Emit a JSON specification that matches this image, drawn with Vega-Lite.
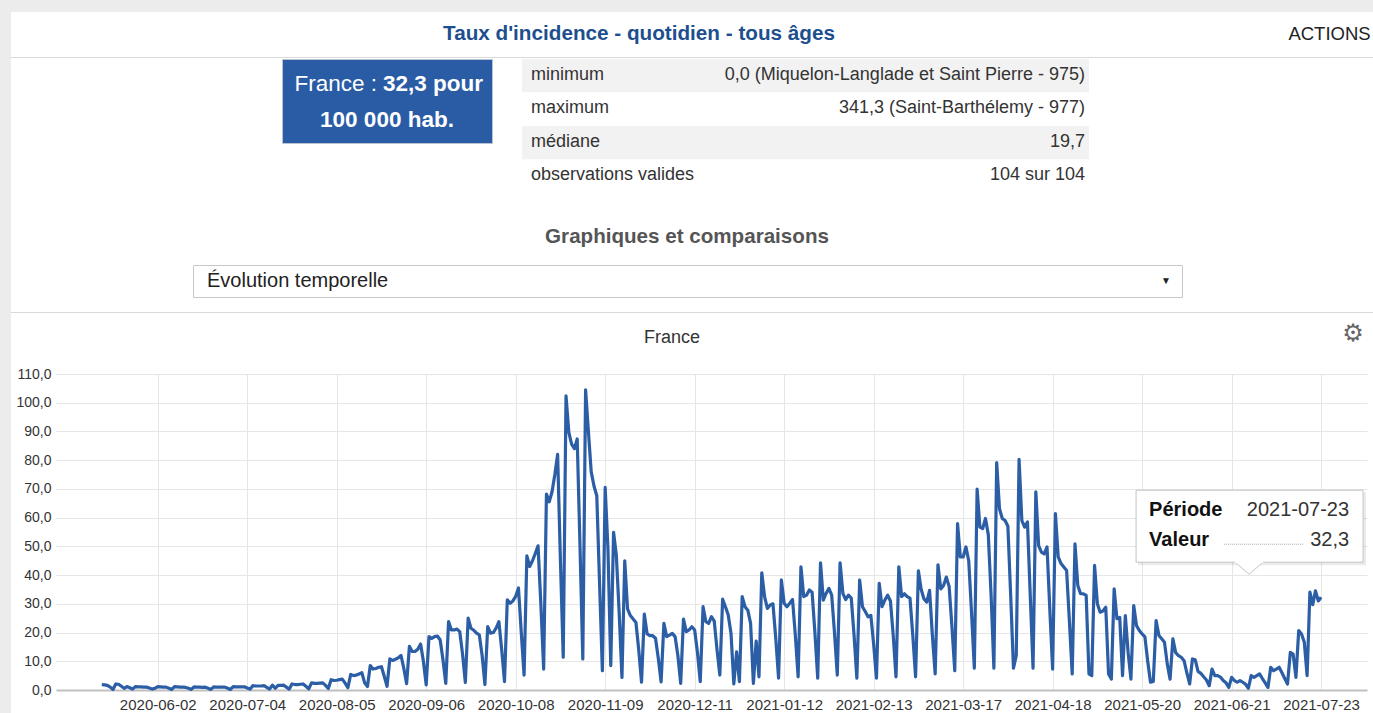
{
"$schema": "https://vega.github.io/schema/vega-lite/v6.json",
"background": "white",
"padding": 0,
"spacing": 0,
"config": {"view": {"stroke": null}, "font": "Liberation Sans", "text": {"font": "Liberation Sans"}},
"datasets": {
"incidence": [
{"periode":"2020-05-13","valeur":1.9},{"periode":"2020-05-14","valeur":1.8},{"periode":"2020-05-15","valeur":1.6},{"periode":"2020-05-16","valeur":1.0},{"periode":"2020-05-17","valeur":0.2},{"periode":"2020-05-18","valeur":2.1},{"periode":"2020-05-19","valeur":2.0},{"periode":"2020-05-20","valeur":1.3},{"periode":"2020-05-21","valeur":0.6},{"periode":"2020-05-22","valeur":1.2},{"periode":"2020-05-23","valeur":0.8},{"periode":"2020-05-24","valeur":0.3},{"periode":"2020-05-25","valeur":1.2},{"periode":"2020-05-26","valeur":1.1},{"periode":"2020-05-27","valeur":1.1},{"periode":"2020-05-28","valeur":1.0},{"periode":"2020-05-29","valeur":1.0},{"periode":"2020-05-30","valeur":0.7},{"periode":"2020-05-31","valeur":0.3},
{"periode":"2020-06-01","valeur":0.6},{"periode":"2020-06-02","valeur":1.2},{"periode":"2020-06-03","valeur":1.1},{"periode":"2020-06-04","valeur":1.0},{"periode":"2020-06-05","valeur":1.0},{"periode":"2020-06-06","valeur":0.6},{"periode":"2020-06-07","valeur":0.2},{"periode":"2020-06-08","valeur":1.2},{"periode":"2020-06-09","valeur":1.1},{"periode":"2020-06-10","valeur":1.0},{"periode":"2020-06-11","valeur":1.0},{"periode":"2020-06-12","valeur":0.9},{"periode":"2020-06-13","valeur":0.6},{"periode":"2020-06-14","valeur":0.2},{"periode":"2020-06-15","valeur":1.1},{"periode":"2020-06-16","valeur":1.0},{"periode":"2020-06-17","valeur":1.0},{"periode":"2020-06-18","valeur":0.9},{"periode":"2020-06-19","valeur":1.0},{"periode":"2020-06-20","valeur":0.6},{"periode":"2020-06-21","valeur":0.2},{"periode":"2020-06-22","valeur":1.1},{"periode":"2020-06-23","valeur":1.0},{"periode":"2020-06-24","valeur":1.0},{"periode":"2020-06-25","valeur":1.0},{"periode":"2020-06-26","valeur":1.0},{"periode":"2020-06-27","valeur":0.6},{"periode":"2020-06-28","valeur":0.2},{"periode":"2020-06-29","valeur":1.2},{"periode":"2020-06-30","valeur":1.1},
{"periode":"2020-07-01","valeur":1.1},{"periode":"2020-07-02","valeur":1.1},{"periode":"2020-07-03","valeur":1.1},{"periode":"2020-07-04","valeur":0.7},{"periode":"2020-07-05","valeur":0.3},{"periode":"2020-07-06","valeur":1.5},{"periode":"2020-07-07","valeur":1.4},{"periode":"2020-07-08","valeur":1.4},{"periode":"2020-07-09","valeur":1.4},{"periode":"2020-07-10","valeur":1.5},{"periode":"2020-07-11","valeur":0.9},{"periode":"2020-07-12","valeur":0.3},{"periode":"2020-07-13","valeur":1.7},{"periode":"2020-07-14","valeur":0.6},{"periode":"2020-07-15","valeur":1.6},{"periode":"2020-07-16","valeur":1.6},{"periode":"2020-07-17","valeur":1.7},{"periode":"2020-07-18","valeur":1.0},{"periode":"2020-07-19","valeur":0.3},{"periode":"2020-07-20","valeur":2.1},{"periode":"2020-07-21","valeur":1.9},{"periode":"2020-07-22","valeur":1.9},{"periode":"2020-07-23","valeur":2.0},{"periode":"2020-07-24","valeur":2.1},{"periode":"2020-07-25","valeur":1.3},{"periode":"2020-07-26","valeur":0.4},{"periode":"2020-07-27","valeur":2.5},{"periode":"2020-07-28","valeur":2.3},{"periode":"2020-07-29","valeur":2.3},{"periode":"2020-07-30","valeur":2.4},{"periode":"2020-07-31","valeur":2.5},
{"periode":"2020-08-01","valeur":1.6},{"periode":"2020-08-02","valeur":0.5},{"periode":"2020-08-03","valeur":3.6},{"periode":"2020-08-04","valeur":3.3},{"periode":"2020-08-05","valeur":3.4},{"periode":"2020-08-06","valeur":3.6},{"periode":"2020-08-07","valeur":3.8},{"periode":"2020-08-08","valeur":2.4},{"periode":"2020-08-09","valeur":0.8},{"periode":"2020-08-10","valeur":5.4},{"periode":"2020-08-11","valeur":5.0},{"periode":"2020-08-12","valeur":5.2},{"periode":"2020-08-13","valeur":5.6},{"periode":"2020-08-14","valeur":6.0},{"periode":"2020-08-15","valeur":2.5},{"periode":"2020-08-16","valeur":1.2},{"periode":"2020-08-17","valeur":8.5},{"periode":"2020-08-18","valeur":7.3},{"periode":"2020-08-19","valeur":7.5},{"periode":"2020-08-20","valeur":7.9},{"periode":"2020-08-21","valeur":8.1},{"periode":"2020-08-22","valeur":4.8},{"periode":"2020-08-23","valeur":1.3},{"periode":"2020-08-24","valeur":10.8},{"periode":"2020-08-25","valeur":10.3},{"periode":"2020-08-26","valeur":10.7},{"periode":"2020-08-27","valeur":11.2},{"periode":"2020-08-28","valeur":12.0},{"periode":"2020-08-29","valeur":7.5},{"periode":"2020-08-30","valeur":2.2},{"periode":"2020-08-31","valeur":15.2},
{"periode":"2020-09-01","valeur":13.4},{"periode":"2020-09-02","valeur":13.4},{"periode":"2020-09-03","valeur":14.2},{"periode":"2020-09-04","valeur":16.0},{"periode":"2020-09-05","valeur":10.0},{"periode":"2020-09-06","valeur":1.8},{"periode":"2020-09-07","valeur":18.6},{"periode":"2020-09-08","valeur":18.0},{"periode":"2020-09-09","valeur":18.6},{"periode":"2020-09-10","valeur":18.8},{"periode":"2020-09-11","valeur":17.4},{"periode":"2020-09-12","valeur":10.5},{"periode":"2020-09-13","valeur":2.3},{"periode":"2020-09-14","valeur":23.8},{"periode":"2020-09-15","valeur":20.9},{"periode":"2020-09-16","valeur":20.9},{"periode":"2020-09-17","valeur":21.2},{"periode":"2020-09-18","valeur":20.3},{"periode":"2020-09-19","valeur":12.5},{"periode":"2020-09-20","valeur":2.6},{"periode":"2020-09-21","valeur":25.0},{"periode":"2020-09-22","valeur":21.5},{"periode":"2020-09-23","valeur":20.8},{"periode":"2020-09-24","valeur":19.8},{"periode":"2020-09-25","valeur":19.2},{"periode":"2020-09-26","valeur":12.0},{"periode":"2020-09-27","valeur":1.9},{"periode":"2020-09-28","valeur":22.1},{"periode":"2020-09-29","valeur":19.8},{"periode":"2020-09-30","valeur":20.0},
{"periode":"2020-10-01","valeur":21.5},{"periode":"2020-10-02","valeur":23.8},{"periode":"2020-10-03","valeur":14.0},{"periode":"2020-10-04","valeur":2.9},{"periode":"2020-10-05","valeur":31.4},{"periode":"2020-10-06","valeur":30.2},{"periode":"2020-10-07","valeur":31.0},{"periode":"2020-10-08","valeur":32.6},{"periode":"2020-10-09","valeur":35.5},{"periode":"2020-10-10","valeur":20.0},{"periode":"2020-10-11","valeur":5.2},{"periode":"2020-10-12","valeur":46.7},{"periode":"2020-10-13","valeur":43.0},{"periode":"2020-10-14","valeur":45.0},{"periode":"2020-10-15","valeur":47.5},{"periode":"2020-10-16","valeur":50.2},{"periode":"2020-10-17","valeur":30.0},{"periode":"2020-10-18","valeur":7.3},{"periode":"2020-10-19","valeur":68.2},{"periode":"2020-10-20","valeur":65.5},{"periode":"2020-10-21","valeur":69.0},{"periode":"2020-10-22","valeur":75.0},{"periode":"2020-10-23","valeur":82.0},{"periode":"2020-10-24","valeur":45.0},{"periode":"2020-10-25","valeur":11.4},{"periode":"2020-10-26","valeur":102.4},{"periode":"2020-10-27","valeur":89.7},{"periode":"2020-10-28","valeur":85.6},{"periode":"2020-10-29","valeur":84.0},{"periode":"2020-10-30","valeur":87.4},{"periode":"2020-10-31","valeur":50.0},
{"periode":"2020-11-01","valeur":10.8},{"periode":"2020-11-02","valeur":104.5},{"periode":"2020-11-03","valeur":90.0},{"periode":"2020-11-04","valeur":76.0},{"periode":"2020-11-05","valeur":71.0},{"periode":"2020-11-06","valeur":67.6},{"periode":"2020-11-07","valeur":37.0},{"periode":"2020-11-08","valeur":6.7},{"periode":"2020-11-09","valeur":70.5},{"periode":"2020-11-10","valeur":49.0},{"periode":"2020-11-11","valeur":8.5},{"periode":"2020-11-12","valeur":54.9},{"periode":"2020-11-13","valeur":46.8},{"periode":"2020-11-14","valeur":27.0},{"periode":"2020-11-15","valeur":4.4},{"periode":"2020-11-16","valeur":45.0},{"periode":"2020-11-17","valeur":28.2},{"periode":"2020-11-18","valeur":25.9},{"periode":"2020-11-19","valeur":24.7},{"periode":"2020-11-20","valeur":23.5},{"periode":"2020-11-21","valeur":14.0},{"periode":"2020-11-22","valeur":2.7},{"periode":"2020-11-23","valeur":26.4},{"periode":"2020-11-24","valeur":19.5},{"periode":"2020-11-25","valeur":18.9},{"periode":"2020-11-26","valeur":18.9},{"periode":"2020-11-27","valeur":18.0},{"periode":"2020-11-28","valeur":11.0},{"periode":"2020-11-29","valeur":2.8},{"periode":"2020-11-30","valeur":23.2},
{"periode":"2020-12-01","valeur":18.6},{"periode":"2020-12-02","valeur":19.1},{"periode":"2020-12-03","valeur":19.7},{"periode":"2020-12-04","valeur":18.6},{"periode":"2020-12-05","valeur":12.0},{"periode":"2020-12-06","valeur":2.3},{"periode":"2020-12-07","valeur":24.7},{"periode":"2020-12-08","valeur":20.3},{"periode":"2020-12-09","valeur":20.9},{"periode":"2020-12-10","valeur":22.0},{"periode":"2020-12-11","valeur":20.9},{"periode":"2020-12-12","valeur":13.0},{"periode":"2020-12-13","valeur":2.9},{"periode":"2020-12-14","valeur":29.0},{"periode":"2020-12-15","valeur":23.8},{"periode":"2020-12-16","valeur":23.2},{"periode":"2020-12-17","valeur":25.5},{"periode":"2020-12-18","valeur":24.0},{"periode":"2020-12-19","valeur":14.0},{"periode":"2020-12-20","valeur":5.2},{"periode":"2020-12-21","valeur":31.6},{"periode":"2020-12-22","valeur":29.0},{"periode":"2020-12-23","valeur":26.1},{"periode":"2020-12-24","valeur":19.7},{"periode":"2020-12-25","valeur":2.1},{"periode":"2020-12-26","valeur":13.3},{"periode":"2020-12-27","valeur":2.9},{"periode":"2020-12-28","valeur":32.5},{"periode":"2020-12-29","valeur":29.0},{"periode":"2020-12-30","valeur":27.8},{"periode":"2020-12-31","valeur":23.2},
{"periode":"2021-01-01","valeur":2.3},{"periode":"2021-01-02","valeur":17.0},{"periode":"2021-01-03","valeur":4.6},{"periode":"2021-01-04","valeur":40.8},{"periode":"2021-01-05","valeur":32.5},{"periode":"2021-01-06","valeur":28.4},{"periode":"2021-01-07","valeur":29.6},{"periode":"2021-01-08","valeur":30.0},{"periode":"2021-01-09","valeur":18.0},{"periode":"2021-01-10","valeur":4.1},{"periode":"2021-01-11","valeur":38.3},{"periode":"2021-01-12","valeur":30.2},{"periode":"2021-01-13","valeur":29.0},{"periode":"2021-01-14","valeur":30.2},{"periode":"2021-01-15","valeur":31.5},{"periode":"2021-01-16","valeur":19.0},{"periode":"2021-01-17","valeur":4.6},{"periode":"2021-01-18","valeur":42.9},{"periode":"2021-01-19","valeur":32.5},{"periode":"2021-01-20","valeur":33.0},{"periode":"2021-01-21","valeur":34.8},{"periode":"2021-01-22","valeur":34.0},{"periode":"2021-01-23","valeur":20.0},{"periode":"2021-01-24","valeur":4.1},{"periode":"2021-01-25","valeur":44.3},{"periode":"2021-01-26","valeur":31.3},{"periode":"2021-01-27","valeur":33.6},{"periode":"2021-01-28","valeur":35.4},{"periode":"2021-01-29","valeur":33.0},{"periode":"2021-01-30","valeur":20.0},{"periode":"2021-01-31","valeur":5.2},
{"periode":"2021-02-01","valeur":44.3},{"periode":"2021-02-02","valeur":33.6},{"periode":"2021-02-03","valeur":31.5},{"periode":"2021-02-04","valeur":33.0},{"periode":"2021-02-05","valeur":32.0},{"periode":"2021-02-06","valeur":19.0},{"periode":"2021-02-07","valeur":4.1},{"periode":"2021-02-08","valeur":38.3},{"periode":"2021-02-09","valeur":29.0},{"periode":"2021-02-10","valeur":27.3},{"periode":"2021-02-11","valeur":25.5},{"periode":"2021-02-12","valeur":26.0},{"periode":"2021-02-13","valeur":16.0},{"periode":"2021-02-14","valeur":4.1},{"periode":"2021-02-15","valeur":37.1},{"periode":"2021-02-16","valeur":29.0},{"periode":"2021-02-17","valeur":31.3},{"periode":"2021-02-18","valeur":33.0},{"periode":"2021-02-19","valeur":31.0},{"periode":"2021-02-20","valeur":19.0},{"periode":"2021-02-21","valeur":4.6},{"periode":"2021-02-22","valeur":42.9},{"periode":"2021-02-23","valeur":32.5},{"periode":"2021-02-24","valeur":33.5},{"periode":"2021-02-25","valeur":32.5},{"periode":"2021-02-26","valeur":32.0},{"periode":"2021-02-27","valeur":19.0},{"periode":"2021-02-28","valeur":4.6},
{"periode":"2021-03-01","valeur":41.5},{"periode":"2021-03-02","valeur":35.0},{"periode":"2021-03-03","valeur":31.7},{"periode":"2021-03-04","valeur":30.6},{"periode":"2021-03-05","valeur":34.7},{"periode":"2021-03-06","valeur":19.0},{"periode":"2021-03-07","valeur":5.6},{"periode":"2021-03-08","valeur":43.6},{"periode":"2021-03-09","valeur":35.2},{"periode":"2021-03-10","valeur":36.4},{"periode":"2021-03-11","valeur":39.3},{"periode":"2021-03-12","valeur":36.0},{"periode":"2021-03-13","valeur":22.0},{"periode":"2021-03-14","valeur":6.7},{"periode":"2021-03-15","valeur":57.9},{"periode":"2021-03-16","valeur":46.3},{"periode":"2021-03-17","valeur":46.3},{"periode":"2021-03-18","valeur":49.8},{"periode":"2021-03-19","valeur":45.0},{"periode":"2021-03-20","valeur":27.0},{"periode":"2021-03-21","valeur":7.6},{"periode":"2021-03-22","valeur":69.9},{"periode":"2021-03-23","valeur":56.7},{"periode":"2021-03-24","valeur":56.2},{"periode":"2021-03-25","valeur":59.7},{"periode":"2021-03-26","valeur":54.0},{"periode":"2021-03-27","valeur":33.0},{"periode":"2021-03-28","valeur":7.6},{"periode":"2021-03-29","valeur":79.2},{"periode":"2021-03-30","valeur":63.1},{"periode":"2021-03-31","valeur":59.7},
{"periode":"2021-04-01","valeur":59.0},{"periode":"2021-04-02","valeur":57.0},{"periode":"2021-04-03","valeur":33.0},{"periode":"2021-04-04","valeur":7.6},{"periode":"2021-04-05","valeur":12.0},{"periode":"2021-04-06","valeur":80.3},{"periode":"2021-04-07","valeur":59.0},{"periode":"2021-04-08","valeur":56.7},{"periode":"2021-04-09","valeur":58.5},{"periode":"2021-04-10","valeur":33.0},{"periode":"2021-04-11","valeur":7.6},{"periode":"2021-04-12","valeur":69.0},{"periode":"2021-04-13","valeur":50.3},{"periode":"2021-04-14","valeur":48.0},{"periode":"2021-04-15","valeur":47.4},{"periode":"2021-04-16","valeur":49.8},{"periode":"2021-04-17","valeur":28.0},{"periode":"2021-04-18","valeur":7.3},{"periode":"2021-04-19","valeur":61.4},{"periode":"2021-04-20","valeur":46.3},{"periode":"2021-04-21","valeur":44.0},{"periode":"2021-04-22","valeur":42.8},{"periode":"2021-04-23","valeur":41.6},{"periode":"2021-04-24","valeur":24.0},{"periode":"2021-04-25","valeur":5.6},{"periode":"2021-04-26","valeur":50.9},{"periode":"2021-04-27","valeur":36.4},{"periode":"2021-04-28","valeur":33.5},{"periode":"2021-04-29","valeur":33.5},{"periode":"2021-04-30","valeur":32.9},
{"periode":"2021-05-01","valeur":5.6},{"periode":"2021-05-02","valeur":5.0},{"periode":"2021-05-03","valeur":43.4},{"periode":"2021-05-04","valeur":30.0},{"periode":"2021-05-05","valeur":27.1},{"periode":"2021-05-06","valeur":27.5},{"periode":"2021-05-07","valeur":28.8},{"periode":"2021-05-08","valeur":5.6},{"periode":"2021-05-09","valeur":3.8},{"periode":"2021-05-10","valeur":35.2},{"periode":"2021-05-11","valeur":24.8},{"periode":"2021-05-12","valeur":25.3},{"periode":"2021-05-13","valeur":5.0},{"periode":"2021-05-14","valeur":25.9},{"periode":"2021-05-15","valeur":13.0},{"periode":"2021-05-16","valeur":3.8},{"periode":"2021-05-17","valeur":29.4},{"periode":"2021-05-18","valeur":22.4},{"periode":"2021-05-19","valeur":20.7},{"periode":"2021-05-20","valeur":19.5},{"periode":"2021-05-21","valeur":18.5},{"periode":"2021-05-22","valeur":10.0},{"periode":"2021-05-23","valeur":2.7},{"periode":"2021-05-24","valeur":3.0},{"periode":"2021-05-25","valeur":24.2},{"periode":"2021-05-26","valeur":19.0},{"periode":"2021-05-27","valeur":17.8},{"periode":"2021-05-28","valeur":16.6},{"periode":"2021-05-29","valeur":9.0},{"periode":"2021-05-30","valeur":3.8},{"periode":"2021-05-31","valeur":17.8},
{"periode":"2021-06-01","valeur":13.0},{"periode":"2021-06-02","valeur":12.0},{"periode":"2021-06-03","valeur":11.4},{"periode":"2021-06-04","valeur":10.2},{"periode":"2021-06-05","valeur":6.0},{"periode":"2021-06-06","valeur":2.1},{"periode":"2021-06-07","valeur":10.8},{"periode":"2021-06-08","valeur":10.5},{"periode":"2021-06-09","valeur":6.5},{"periode":"2021-06-10","valeur":5.8},{"periode":"2021-06-11","valeur":4.6},{"periode":"2021-06-12","valeur":3.5},{"periode":"2021-06-13","valeur":1.5},{"periode":"2021-06-14","valeur":7.3},{"periode":"2021-06-15","valeur":5.0},{"periode":"2021-06-16","valeur":5.0},{"periode":"2021-06-17","valeur":4.5},{"periode":"2021-06-18","valeur":3.3},{"periode":"2021-06-19","valeur":2.5},{"periode":"2021-06-20","valeur":0.9},{"periode":"2021-06-21","valeur":4.4},{"periode":"2021-06-22","valeur":3.3},{"periode":"2021-06-23","valeur":2.7},{"periode":"2021-06-24","valeur":3.3},{"periode":"2021-06-25","valeur":2.7},{"periode":"2021-06-26","valeur":2.0},{"periode":"2021-06-27","valeur":0.6},{"periode":"2021-06-28","valeur":5.0},{"periode":"2021-06-29","valeur":4.4},{"periode":"2021-06-30","valeur":5.0},
{"periode":"2021-07-01","valeur":5.6},{"periode":"2021-07-02","valeur":4.0},{"periode":"2021-07-03","valeur":2.5},{"periode":"2021-07-04","valeur":0.9},{"periode":"2021-07-05","valeur":7.9},{"periode":"2021-07-06","valeur":6.7},{"periode":"2021-07-07","valeur":7.3},{"periode":"2021-07-08","valeur":7.9},{"periode":"2021-07-09","valeur":6.0},{"periode":"2021-07-10","valeur":4.0},{"periode":"2021-07-11","valeur":2.1},{"periode":"2021-07-12","valeur":13.1},{"periode":"2021-07-13","valeur":12.5},{"periode":"2021-07-14","valeur":4.4},{"periode":"2021-07-15","valeur":20.7},{"periode":"2021-07-16","valeur":19.5},{"periode":"2021-07-17","valeur":16.6},{"periode":"2021-07-18","valeur":5.0},{"periode":"2021-07-19","valeur":34.1},{"periode":"2021-07-20","valeur":29.7},{"periode":"2021-07-21","valeur":34.5},{"periode":"2021-07-22","valeur":31.0},{"periode":"2021-07-23","valeur":32.3}
]
},
"vconcat": [
 {"width": 1373, "height": 12, "data": {"values": []}, "mark": "point", "view": {"fill": "#ececec"}},
 {"spacing": 0, "hconcat": [
  {"width": 11, "height": 701, "data": {"values": []}, "mark": "point", "view": {"fill": "#ececec"}},
  {"spacing": 0, "vconcat": [
   {"spacing": 19, "hconcat": [
     {"width": 1256, "height": 45, "data": {"values": [{"titre": "Taux d'incidence - quotidien - tous âges"}]},
      "mark": {"type": "text", "fontSize": 20.7, "fontWeight": "bold", "color": "#1d4f8f", "dy": -1},
      "encoding": {"text": {"field": "titre"}}},
     {"width": 87, "height": 45, "data": {"values": [{"menu": "ACTIONS"}]},
      "mark": {"type": "text", "fontSize": 18.5, "color": "#222222", "dy": -1},
      "encoding": {"text": {"field": "menu"}}}
   ]},
   {"width": 1362, "height": 1, "data": {"values": []}, "mark": "point", "view": {"fill": "#d9d9d9"}},
   {"spacing": 29, "hconcat": [
     {"width": 241, "height": 134, "data": {"values": []}, "mark": "point"},
     {"width": 210, "height": 84, "view": {"fill": "#2a5ca6", "stroke": "#b9c3d1"},
      "data": {"values": [{"territoire": "France", "taux": 32.3}]},
      "transform": [
        {"calculate": "datum.territoire + ' :'", "as": "l1a"},
        {"calculate": "replace(format(datum.taux, '.1f'), '.', ',') + ' pour'", "as": "l1b"},
        {"calculate": "'100 000 hab.'", "as": "l2"}
      ],
      "layer": [
        {"mark": {"type": "text", "fontSize": 22.5, "color": "white", "align": "right", "dx": -10, "dy": -17}, "encoding": {"text": {"field": "l1a"}}},
        {"mark": {"type": "text", "fontSize": 22.5, "fontWeight": "bold", "color": "white", "align": "left", "dx": -4, "dy": -17}, "encoding": {"text": {"field": "l1b"}}},
        {"mark": {"type": "text", "fontSize": 22.5, "fontWeight": "bold", "color": "white", "dy": 19}, "encoding": {"text": {"field": "l2"}}}
      ]},
     {"width": 567, "height": 134,
      "data": {"values": [
        {"stat": "minimum", "valeur": "0,0 (Miquelon-Langlade et Saint Pierre - 975)"},
        {"stat": "maximum", "valeur": "341,3 (Saint-Barthélemy - 977)"},
        {"stat": "médiane", "valeur": "19,7"},
        {"stat": "observations valides", "valeur": "104 sur 104"}
      ]},
      "encoding": {"y": {"field": "stat", "type": "nominal", "sort": null, "axis": null, "scale": {"paddingInner": 0, "paddingOuter": 0}}},
      "layer": [
        {"mark": {"type": "rect"}, "encoding": {"fill": {"condition": {"test": "datum.stat === 'minimum' || datum.stat === 'médiane'", "value": "#f2f2f2"}, "value": "#ffffff"}}},
        {"transform": [{"fold": ["stat", "valeur"], "as": ["colonne", "texte"]}, {"filter": "datum.colonne === 'stat'"}],
         "mark": {"type": "text", "align": "left", "dx": 9, "dy": -1, "fontSize": 18, "color": "#333333"},
         "encoding": {"x": {"field": "colonne", "type": "nominal", "axis": null, "scale": {"type": "point", "domain": ["stat", "valeur"], "padding": 0}}, "text": {"field": "texte"}}},
        {"transform": [{"fold": ["stat", "valeur"], "as": ["colonne", "texte"]}, {"filter": "datum.colonne === 'valeur'"}],
         "mark": {"type": "text", "align": "right", "dx": -4, "dy": -1, "fontSize": 18, "color": "#333333"},
         "encoding": {"x": {"field": "colonne", "type": "nominal", "axis": null, "scale": {"type": "point", "domain": ["stat", "valeur"], "padding": 0}}, "text": {"field": "texte"}}}
      ]}
   ]},
   {"width": 1362, "height": 71, "data": {"values": [{"rubrique": "Graphiques et comparaisons"}]},
    "mark": {"type": "text", "fontSize": 20.6, "fontWeight": "bold", "color": "#555555", "dx": -5, "dy": 8},
    "encoding": {"text": {"field": "rubrique"}}},
   {"spacing": 0, "hconcat": [
     {"width": 181, "height": 32, "data": {"values": []}, "mark": "point"},
     {"width": 989, "height": 32, "view": {"fill": "white", "stroke": "#c8c8c8"},
      "data": {"values": [{"choix": "Évolution temporelle", "fleche": "▼"}]},
      "transform": [{"fold": ["choix", "fleche"], "as": ["partie", "texte"]}],
      "encoding": {"x": {"field": "partie", "type": "nominal", "axis": null, "scale": {"type": "point", "domain": ["choix", "fleche"], "padding": 0}}, "text": {"field": "texte"}},
      "layer": [
        {"transform": [{"filter": "datum.partie === 'choix'"}], "mark": {"type": "text", "align": "left", "dx": 14, "fontSize": 20, "color": "#222222"}},
        {"transform": [{"filter": "datum.partie === 'fleche'"}], "mark": {"type": "text", "align": "right", "dx": -11, "fontSize": 10, "color": "#222222"}}
      ]}
   ]},
   {"width": 1362, "height": 14, "data": {"values": []}, "mark": "point"},
   {"width": 1362, "height": 1, "data": {"values": []}, "mark": "point", "view": {"fill": "#d9d9d9"}},
   {"spacing": 0, "hconcat": [
     {"width": 1322, "height": 54, "data": {"values": [{"zone": "France"}]},
      "mark": {"type": "text", "fontSize": 18, "color": "#333333", "dy": -2},
      "encoding": {"text": {"field": "zone"}}},
     {"width": 40, "height": 54, "data": {"values": [{"icone": "⚙"}]},
      "mark": {"type": "text", "font": "DejaVu Sans", "fontSize": 24, "color": "#666666", "dy": -6},
      "encoding": {"text": {"field": "icone"}}}
   ]},
   {"spacing": 0, "hconcat": [
     {"width": 4, "height": 1, "data": {"values": []}, "mark": "point"},
     {"width": 1311, "height": 316,
      "data": {"name": "incidence", "format": {"parse": {"periode": "date"}}},
      "encoding": {
        "x": {"field": "periode", "type": "temporal",
              "scale": {"type": "utc", "domain": [{"year": 2020, "month": 4, "date": 26, "hours": 15, "utc": true}, {"year": 2021, "month": 8, "date": 8, "hours": 10, "utc": true}]},
              "axis": {"title": null, "format": "%Y-%m-%d", "labelFontSize": 15, "labelColor": "#333333", "labelPadding": 7, "ticks": false, "tickSize": 0,
                       "domainColor": "#c0c0c0", "domainWidth": 2, "grid": true, "gridColor": "#e6e6e6", "labelOverlap": false, "labelFlush": false,
                       "values": [
                         {"year": 2020, "month": 6, "date": 2, "utc": true}, {"year": 2020, "month": 7, "date": 4, "utc": true},
                         {"year": 2020, "month": 8, "date": 5, "utc": true}, {"year": 2020, "month": 9, "date": 6, "utc": true},
                         {"year": 2020, "month": 10, "date": 8, "utc": true}, {"year": 2020, "month": 11, "date": 9, "utc": true},
                         {"year": 2020, "month": 12, "date": 11, "utc": true}, {"year": 2021, "month": 1, "date": 12, "utc": true},
                         {"year": 2021, "month": 2, "date": 13, "utc": true}, {"year": 2021, "month": 3, "date": 17, "utc": true},
                         {"year": 2021, "month": 4, "date": 18, "utc": true}, {"year": 2021, "month": 5, "date": 20, "utc": true},
                         {"year": 2021, "month": 6, "date": 21, "utc": true}, {"year": 2021, "month": 7, "date": 23, "utc": true}
                       ]}},
        "y": {"field": "valeur", "type": "quantitative",
              "scale": {"domain": [0, 110], "nice": false},
              "axis": {"title": null, "values": [0, 10, 20, 30, 40, 50, 60, 70, 80, 90, 100, 110],
                       "labelExpr": "replace(format(datum.value, '.1f'), '.', ',')",
                       "labelFontSize": 14, "labelColor": "#333333", "labelPadding": 5, "ticks": false, "tickSize": 0, "domain": false,
                       "grid": true, "gridColor": "#e6e6e6"}}
      },
      "layer": [
        {"mark": {"type": "line", "color": "#2c5ea6", "strokeWidth": 3.2, "strokeJoin": "round"}},
        {"transform": [
           {"filter": "utcFormat(datum.periode, '%Y-%m-%d') === '2021-07-23'"},
           {"calculate": "utcFormat(datum.periode, '%Y-%m-%d')", "as": "periode_txt"},
           {"calculate": "replace(format(datum.valeur, '.1f'), '.', ',')", "as": "valeur_txt"}
         ],
         "layer": [
           {"mark": {"type": "rect", "fill": "#000000", "opacity": 0.08, "xOffset": -183, "x2Offset": 45, "yOffset": -105, "y2Offset": -32},
            "encoding": {"x2": {"field": "periode"}, "y2": {"field": "valeur"}}},
           {"mark": {"type": "rect", "fill": "#ffffff", "stroke": "#c4c4c4", "strokeWidth": 1, "xOffset": -185, "x2Offset": 42, "yOffset": -107, "y2Offset": -35},
            "encoding": {"x2": {"field": "periode"}, "y2": {"field": "valeur"}}},
           {"mark": {"type": "point", "shape": "M-1,-0.43L1,-0.43L0,0.43Z", "size": 784, "filled": true, "fill": "#ffffff", "stroke": "#c4c4c4", "strokeWidth": 1, "opacity": 1, "xOffset": -72, "yOffset": -29}},
           {"mark": {"type": "rect", "fill": "#ffffff", "xOffset": -86, "x2Offset": -58, "yOffset": -37, "y2Offset": -34},
            "encoding": {"x2": {"field": "periode"}, "y2": {"field": "valeur"}}},
           {"mark": {"type": "text", "align": "left", "fontSize": 20, "fontWeight": "bold", "color": "#111111", "dx": -172, "dy": -87, "text": "Période"}},
           {"mark": {"type": "text", "align": "right", "fontSize": 20, "color": "#333333", "dx": 28, "dy": -87}, "encoding": {"text": {"field": "periode_txt"}}},
           {"mark": {"type": "text", "align": "left", "fontSize": 20, "fontWeight": "bold", "color": "#111111", "dx": -172, "dy": -57, "text": "Valeur"}},
           {"mark": {"type": "text", "align": "right", "fontSize": 20, "color": "#333333", "dx": 28, "dy": -57}, "encoding": {"text": {"field": "valeur_txt"}}},
           {"mark": {"type": "rule", "color": "#aaaaaa", "strokeWidth": 1, "strokeDash": [1, 1], "xOffset": -97, "x2Offset": -17, "yOffset": -53},
            "encoding": {"x2": {"field": "periode"}}}
         ]}
      ]}
   ]}
  ]}
 ]}
]
}
